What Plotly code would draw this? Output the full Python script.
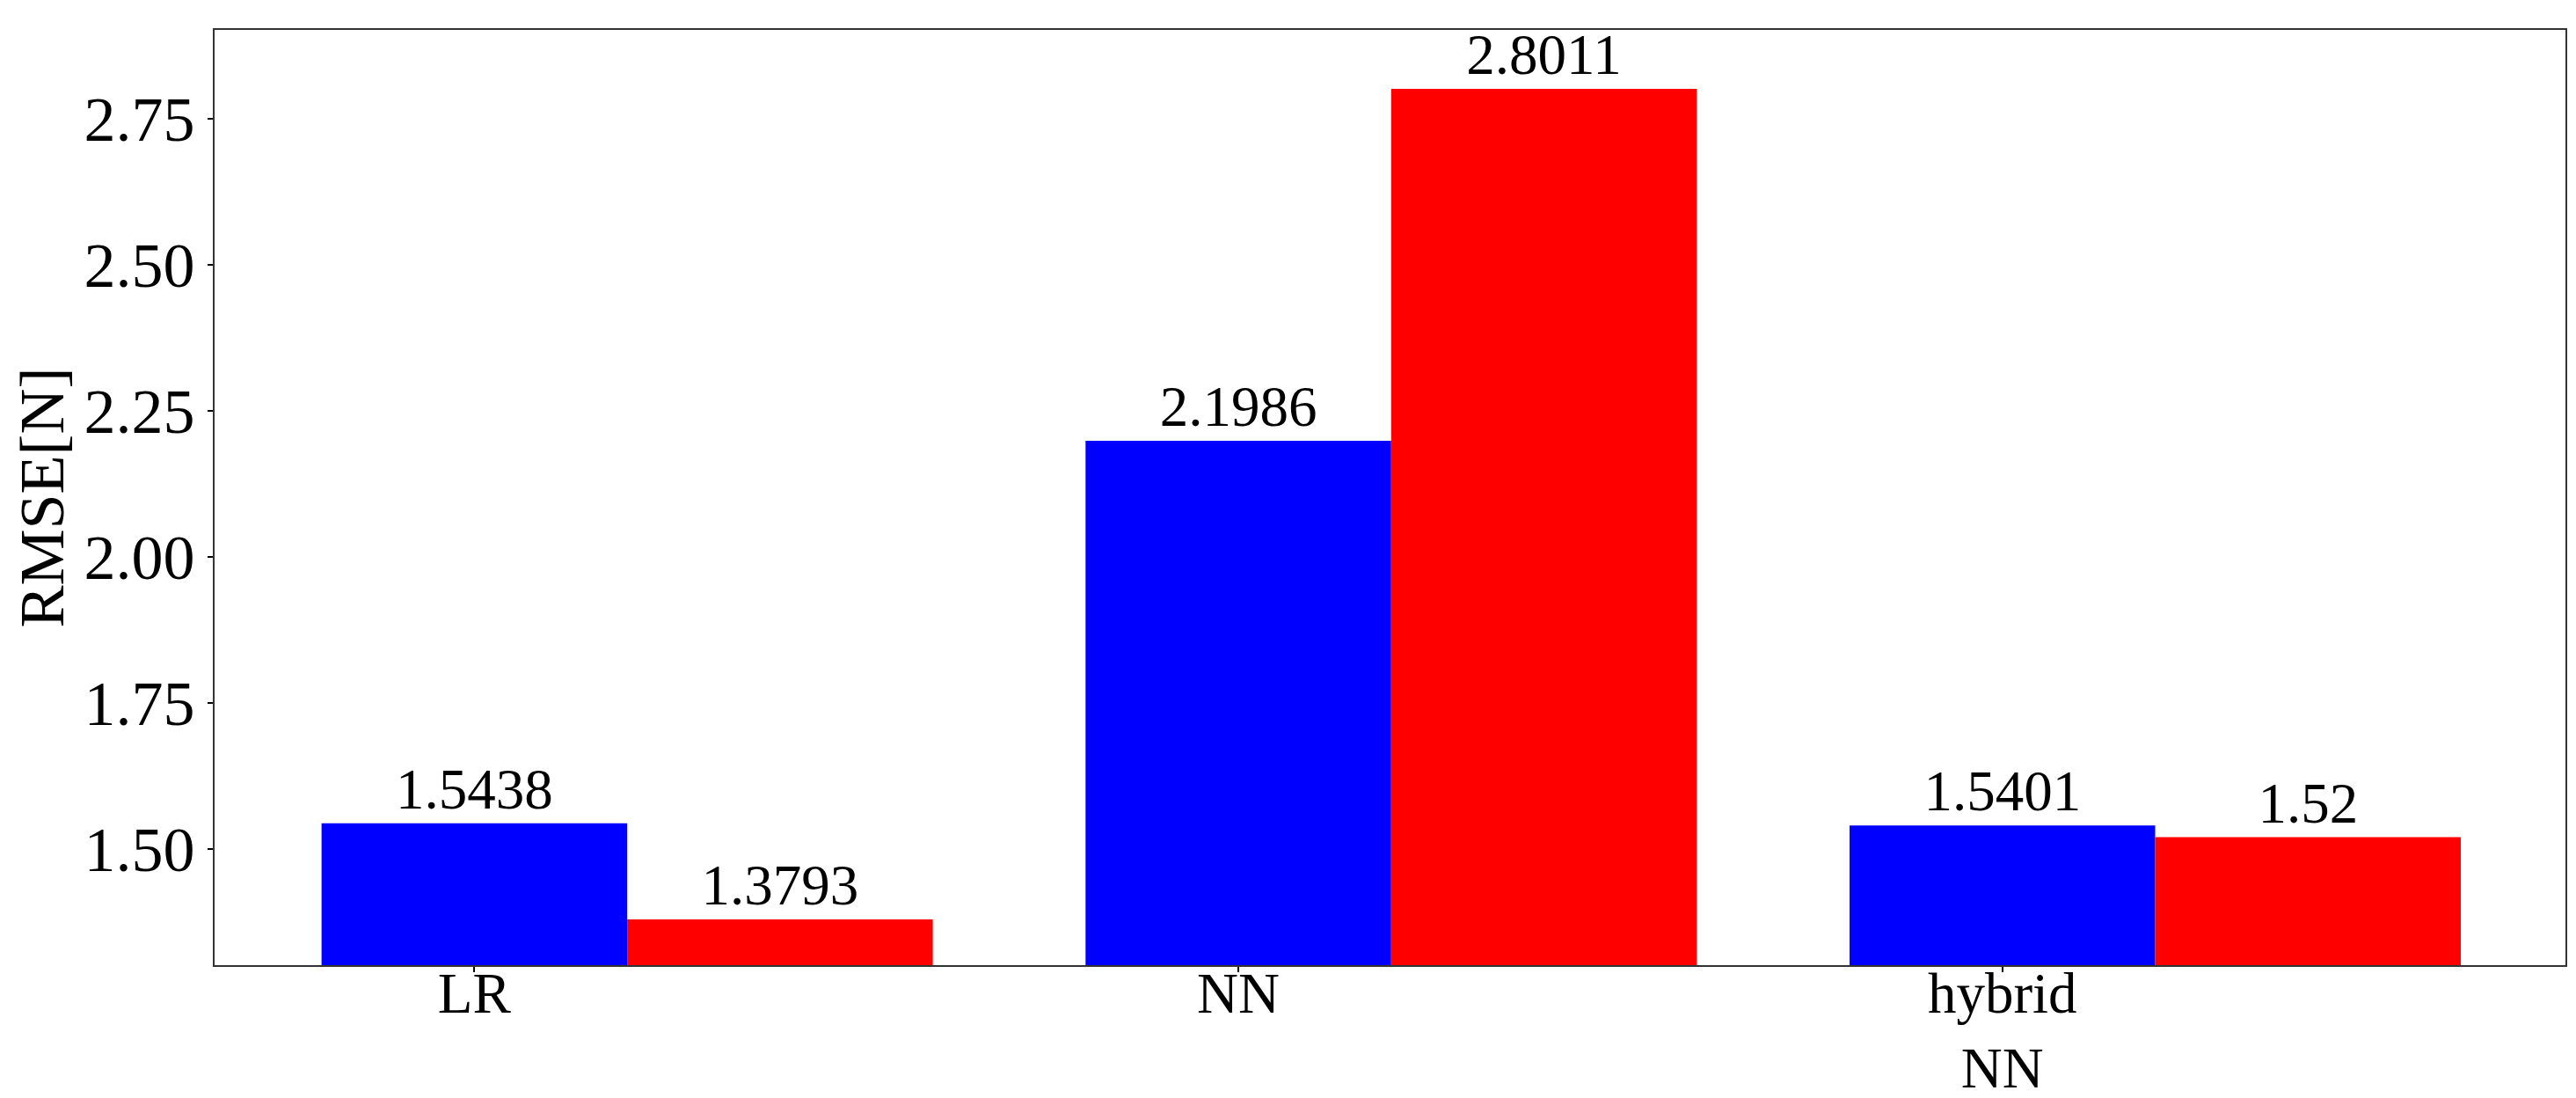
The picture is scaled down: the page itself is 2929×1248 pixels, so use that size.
import plotly.graph_objects as go

categories = ["LR", "NN", "hybrid<br>NN"]
positions = [0, 1, 2]
series_a = [1.5438, 2.1986, 1.5401]
series_b = [1.3793, 2.8011, 1.52]
y_ticks = [1.50, 1.75, 2.00, 2.25, 2.50, 2.75]

FONT = "Liberation Serif"

fig = go.Figure()
fig.add_trace(go.Bar(
    x=positions, y=series_a, width=0.4, offset=-0.2,
    marker=dict(color="#0000ff", line=dict(width=0)),
    text=[f"{v:g}" for v in series_a], textposition="outside",
    textfont=dict(family=FONT, size=65, color="black"),
    cliponaxis=False, showlegend=False,
))
fig.add_trace(go.Bar(
    x=positions, y=series_b, width=0.4, offset=0.2,
    marker=dict(color="#ff0000", line=dict(width=0)),
    text=[f"{v:g}" for v in series_b], textposition="outside",
    textfont=dict(family=FONT, size=65, color="black"),
    cliponaxis=False, showlegend=False,
))

fig.update_layout(
    width=2929, height=1248,
    margin=dict(l=236, r=20, t=26, b=159, autoexpand=False),
    paper_bgcolor="white", plot_bgcolor="white",
    barmode="overlay",
    font=dict(family=FONT, color="black"),
)
fig.update_xaxes(
    range=[-0.34, 2.737],
    tickvals=positions, ticktext=categories,
    tickfont=dict(family=FONT, size=65, color="black"),
    ticks="outside", ticklen=6, tickwidth=1.5, tickcolor="black",
    ticklabelstandoff=-32,
    showline=True, linecolor="#333333", linewidth=2, mirror=True,
    showgrid=False, zeroline=False,
)
fig.update_yaxes(
    range=[1.301, 2.902],
    tickvals=y_ticks, tickformat=".2f",
    tickfont=dict(family=FONT, size=72, color="black"),
    ticks="outside", ticklen=6, tickwidth=1.5, tickcolor="black",
    showline=True, linecolor="#333333", linewidth=2, mirror=True,
    showgrid=False, zeroline=False,
    title=dict(text="RMSE[N]", font=dict(family=FONT, size=72, color="black"), standoff=12),
)

fig.write_html("out.html")
